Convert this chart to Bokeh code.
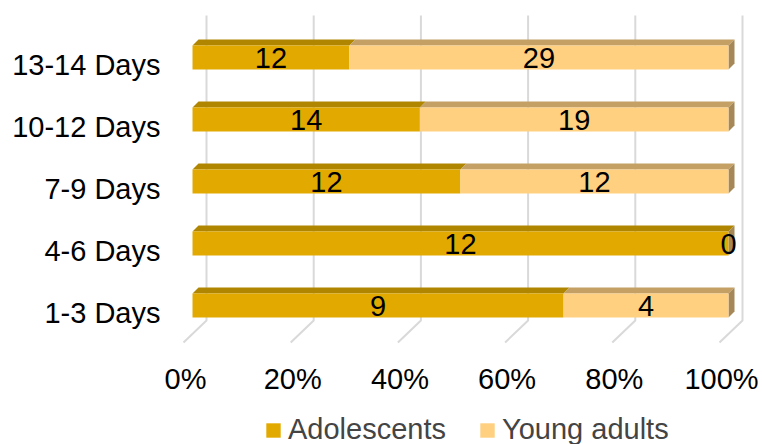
from bokeh.plotting import figure
from bokeh.models import Range1d, ColumnDataSource, Legend, LegendItem
from bokeh.core.properties import value
from bokeh.embed import file_html
from bokeh.resources import INLINE

# ---- data ----
categories = ["1-3 Days", "4-6 Days", "7-9 Days", "10-12 Days", "13-14 Days"]
adolescents = [9, 12, 12, 14, 12]
young_adults = [4, 0, 12, 19, 29]
tick_values = [0, 20, 40, 60, 80, 100]
tick_labels = ["0%", "20%", "40%", "60%", "80%", "100%"]
series_names = ["Adolescents", "Young adults"]

# ---- style ----
W, H = 762, 444
PXX = 5.36          # pixels per percent
PXY = 62.0          # pixels per category step
X0PIX = 192         # pixel of 0% on bar front plane
Y0PIX = 305         # pixel of first category centre
FONT = value("Liberation Sans")
FS = value("29px")

ado_front, ado_top = "#E2AA00", "#B08600"
ya_front, ya_top, ya_side = "#FFD080", "#C4A064", "#A68758"
grid_col = "#D9D9D9"

dx = 6 / PXX        # bar depth (x)
dy = 6 / PXY        # bar depth (y)
hh = 12 / PXY       # bar half height

p = figure(width=W, height=H, output_backend="svg", toolbar_location=None,
           x_axis_type=None, y_axis_type=None, min_border=0,
           x_range=Range1d(-X0PIX / PXX, (W - X0PIX) / PXX),
           y_range=Range1d((Y0PIX - H) / PXY, Y0PIX / PXY))
p.outline_line_color = None
p.background_fill_color = "white"
p.border_fill_color = "white"

# ---- 3D grid: back wall verticals + floor diagonals ----
gx_back = 14 / PXX
gy_top = (Y0PIX - 15) / PXY
gy_floor = (Y0PIX - 320) / PXY
fx_front = -9 / PXX
fy_front = (Y0PIX - 342) / PXY
xs_g, ys_g = [], []
for t in tick_values:
    xs_g.append([t + gx_back, t + gx_back, t + fx_front])
    ys_g.append([gy_top, gy_floor, fy_front])
p.multi_line(xs_g, ys_g, line_color=grid_col, line_width=2)

# ---- bars ----
n = len(categories)
totals = [a + b for a, b in zip(adolescents, young_adults)]
ado_pct = [100.0 * a / t for a, t in zip(adolescents, totals)]
ya_pct = [100.0 * b / t for b, t in zip(young_adults, totals)]
yc = list(range(n))

ado_left = [0.0] * n
ado_right = ado_pct
ya_left = ado_pct
ya_right = [l + w for l, w in zip(ya_left, ya_pct)]

def top_faces(lefts, rights):
    xs, ys = [], []
    for l, r, c in zip(lefts, rights, yc):
        xs.append([l, r, r + dx, l + dx])
        ys.append([c + hh, c + hh, c + hh + dy, c + hh + dy])
    return xs, ys

xs, ys = top_faces(ado_left, ado_right)
p.patches(xs, ys, fill_color=ado_top, line_color=None)
xs, ys = top_faces(ya_left, ya_right)
p.patches(xs, ys, fill_color=ya_top, line_color=None)

# right side faces
sx, sy = [], []
for r, c in zip(ya_right, yc):
    sx.append([r, r + dx, r + dx, r])
    sy.append([c - hh, c - hh + dy, c + hh + dy, c + hh])
p.patches(sx, sy, fill_color=ya_side, line_color=None)

src = ColumnDataSource(dict(y=yc, al=ado_left, ar=ado_right, yl=ya_left, yr=ya_right))
r_ado = p.hbar(y="y", left="al", right="ar", height=2 * hh, source=src,
               fill_color=ado_front, line_color=None)
r_ya = p.hbar(y="y", left="yl", right="yr", height=2 * hh, source=src,
              fill_color=ya_front, line_color=None)

# ---- value labels ----
lx, ly, lt = [], [], []
for i in range(n):
    lx.append((ado_left[i] + ado_right[i]) / 2); ly.append(yc[i]); lt.append(str(adolescents[i]))
    lx.append((ya_left[i] + ya_right[i]) / 2); ly.append(yc[i]); lt.append(str(young_adults[i]))
p.text(lx, ly, text=lt, text_align="center", text_baseline="middle",
       text_font=FONT, text_font_size=FS, text_color="black")

# ---- category labels ----
p.text([(160 - X0PIX) / PXX] * n, [c - 7 / PXY for c in yc], text=categories,
       text_align="right", text_baseline="middle",
       text_font=FONT, text_font_size=FS, text_color="black")

# ---- x tick labels ----
p.text([t - 7 / PXX for t in tick_values], [(Y0PIX - 378) / PXY] * len(tick_values),
       text=tick_labels, text_align="center", text_baseline="middle",
       text_font=FONT, text_font_size=FS, text_color="black")

# ---- legend ----
legend = Legend(items=[LegendItem(label=series_names[0], renderers=[r_ado]),
                       LegendItem(label=series_names[1], renderers=[r_ya])],
                orientation="horizontal", location=(264, -2),
                label_text_font="Liberation Sans", label_text_font_size="29px",
                glyph_width=18, glyph_height=18, label_standoff=6, spacing=32,
                padding=0, margin=0, border_line_color=None,
                background_fill_alpha=0)
p.add_layout(legend)

open("out.html", "w").write(file_html(p, INLINE))
